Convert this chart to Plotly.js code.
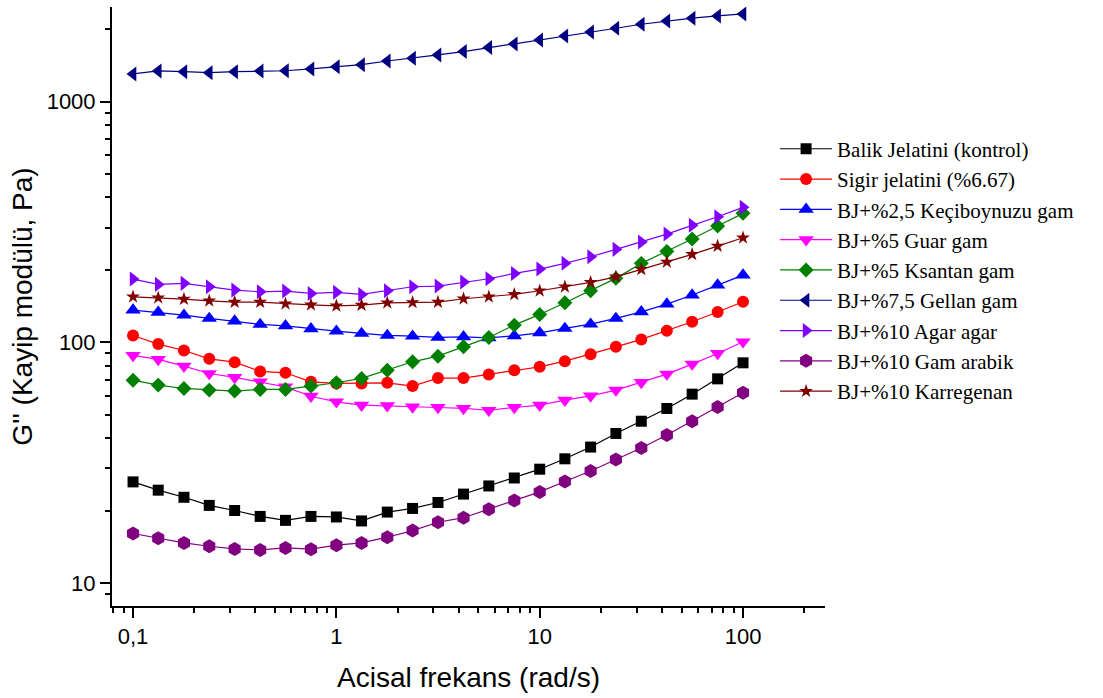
<!DOCTYPE html>
<html>
<head>
<meta charset="utf-8">
<script src="https://cdn.plot.ly/plotly-3.0.1.min.js"></script>
<style>
  html, body { margin: 0; padding: 0; background: #fff; }
  #chart { width: 1103px; height: 698px; }
</style>
</head>
<body>
<div id="chart"></div>
<script>
// Angular frequency (rad/s)
const freq = [0.1, 0.133, 0.178, 0.237, 0.316, 0.422, 0.562, 0.75, 1, 1.33, 1.78, 2.37,
              3.16, 4.22, 5.62, 7.5, 10, 13.3, 17.8, 23.7, 31.6, 42.2, 56.2, 75, 100];

// Loss modulus G'' (Pa) for each sample
const balik = [26.3, 24.3, 22.7, 21.0, 20.0, 18.9, 18.2, 18.9, 18.8, 18.1, 19.7, 20.4,
               21.6, 23.4, 25.3, 27.3, 29.7, 32.8, 36.7, 41.8, 47.0, 53.1, 60.9, 70.5, 82.2];
const sigir = [106.8, 98.3, 92.5, 85.4, 82.7, 75.7, 74.7, 68.5, 67.5, 67.5, 67.9, 65.8,
               71.0, 71.0, 73.5, 76.6, 79.1, 83.5, 89.3, 95.8, 102.8, 111.6, 121.7, 133.6, 147.4];
const keci = [136.1, 133.2, 129.7, 125.7, 122.5, 118.7, 117.1, 113.8, 111.3, 108.9, 106.8, 106.1,
              104.8, 105.4, 104.4, 106.4, 109.5, 114.2, 119.0, 125.7, 133.9, 144.2, 157.2, 172.9, 190.3];
const guar = [88.2, 84.9, 79.6, 74.2, 71.5, 68.5, 65.3, 59.7, 56.6, 54.8, 54.5, 53.9,
              53.6, 53.1, 52.2, 53.6, 54.8, 57.5, 59.9, 63.3, 68.1, 73.8, 81.2, 89.9, 100.5];
const ksantan = [69.6, 66.4, 64.3, 63.3, 62.7, 63.7, 63.7, 65.8, 67.9, 70.8, 76.6, 83.0,
                 87.6, 95.8, 104.8, 117.9, 130.6, 146.0, 163.8, 184.4, 212.9, 238.8, 268.6, 304.2, 343.6];
const gellan = [1304, 1342, 1333, 1320, 1333, 1342, 1345, 1368, 1398, 1425, 1476, 1515,
                1564, 1615, 1678, 1738, 1805, 1876, 1949, 2020, 2098, 2166, 2223, 2272, 2316];
const agar = [183.2, 174.1, 175.8, 170.2, 164.8, 162.2, 163.3, 159.7, 161.3, 158.2, 163.8, 170.2,
              171.3, 178.0, 183.7, 193.4, 201.6, 212.9, 226.8, 243.4, 261.0, 281.8, 306.3, 332.5, 363.8];
const arabik = [16.05, 15.34, 14.67, 14.21, 13.85, 13.72, 13.98, 13.81, 14.35, 14.67, 15.49, 16.51,
                17.88, 18.67, 20.25, 22.0, 23.9, 26.4, 29.2, 32.6, 36.4, 41.2, 47.0, 53.8, 61.7];
const karragenan = [154.6, 153.1, 151.2, 148.8, 146.9, 146.9, 144.6, 143.2, 141.8, 142.8, 146.0, 146.5,
                    146.9, 151.7, 154.6, 158.2, 163.8, 170.2, 177.5, 187.2, 201.0, 215.6, 232.1, 251.2, 272.0];

const seriesNames = [
  "Balik Jelatini (kontrol)",
  "Sigir jelatini (%6.67)",
  "BJ+%2,5 Keçiboynuzu gam",
  "BJ+%5 Guar gam",
  "BJ+%5 Ksantan gam",
  "BJ+%7,5 Gellan gam",
  "BJ+%10 Agar agar",
  "BJ+%10 Gam arabik",
  "BJ+%10 Karregenan"
];
const seriesValues = [balik, sigir, keci, guar, ksantan, gellan, agar, arabik, karragenan];

// Tick labels
const xTickVals = [0.1, 1, 10, 100];
const xTickText = ["0,1", "1", "10", "100"];
const yTickVals = [10, 100, 1000];
const yTickText = ["10", "100", "1000"];
const xMinor = [0.08, 0.09, 0.2, 0.3, 0.4, 0.5, 0.6, 0.7, 0.8, 0.9, 2, 3, 4, 5, 6, 7, 8, 9,
                20, 30, 40, 50, 60, 70, 80, 90, 200];
const yMinor = [9, 20, 30, 40, 50, 60, 70, 80, 90, 200, 300, 400, 500, 600, 700, 800, 900, 2000];

// Per-series styling
const styles = [
  { color: "#000000", symbol: "square", size: 11 },
  { color: "#FF0000", symbol: "circle", size: 12 },
  { color: "#0000FF", symbol: "triangle-up", size: 13.5 },
  { color: "#FF00FF", symbol: "triangle-down", size: 13.5 },
  { color: "#008000", symbol: "diamond", size: 11.5 },
  { color: "#000080", symbol: "triangle-left", size: 13 },
  { color: "#8000FF", symbol: "triangle-right", size: 13 },
  { color: "#800080", symbol: "hexagon", size: 14 },
  { color: "#800000", symbol: "star", size: 10.5 }
];

const traces = seriesValues.map((vals, i) => ({
  type: "scatter",
  mode: "lines+markers",
  name: seriesNames[i],
  x: freq,
  y: vals,
  line: { color: styles[i].color, width: 1.2 },
  marker: { color: styles[i].color, symbol: styles[i].symbol, size: styles[i].size, line: { width: 0 } }
}));

const axisFont = { family: "Liberation Sans, Arial, sans-serif", size: 22, color: "#000" };

const layout = {
  width: 1103,
  height: 698,
  paper_bgcolor: "#fff",
  plot_bgcolor: "#fff",
  margin: { l: 112, r: 278, t: 7, b: 92 },
  showlegend: true,
  legend: {
    x: 0.93, y: 0.797, xanchor: "left", yanchor: "top",
    font: { family: "Liberation Serif, Times New Roman, serif", size: 21, color: "#000" },
    itemwidth: 52,
    bgcolor: "rgba(0,0,0,0)",
    borderwidth: 0,
    tracegroupgap: 0
  },
  xaxis: {
    type: "log",
    range: [Math.log10(0.0788), Math.log10(253)],
    showline: true, linecolor: "#000", linewidth: 2,
    showgrid: false, zeroline: false, mirror: false,
    ticks: "outside", ticklen: 10, tickwidth: 2, tickcolor: "#000",
    tickmode: "array", tickvals: xTickVals, ticktext: xTickText,
    tickfont: axisFont,
    minor: { tickmode: "array", tickvals: xMinor, ticks: "outside", ticklen: 5, tickwidth: 2, tickcolor: "#000", showgrid: false },
    title: { text: "Acisal frekans (rad/s)", font: { family: "Liberation Sans, Arial, sans-serif", size: 28, color: "#000" }, standoff: 19 },
    automargin: false
  },
  yaxis: {
    type: "log",
    range: [Math.log10(8.02), Math.log10(2475)],
    showline: true, linecolor: "#000", linewidth: 2,
    showgrid: false, zeroline: false, mirror: false,
    ticks: "outside", ticklen: 10, tickwidth: 2, tickcolor: "#000",
    tickmode: "array", tickvals: yTickVals, ticktext: yTickText,
    tickfont: axisFont,
    minor: { tickmode: "array", tickvals: yMinor, ticks: "outside", ticklen: 5, tickwidth: 2, tickcolor: "#000", showgrid: false },
    title: { text: "G'' (Kayip modülü, Pa)", font: { family: "Liberation Sans, Arial, sans-serif", size: 28, color: "#000" }, standoff: 6 },
    automargin: false
  }
};

Plotly.newPlot("chart", traces, layout, { displayModeBar: false, staticPlot: true });
</script>
</body>
</html>
